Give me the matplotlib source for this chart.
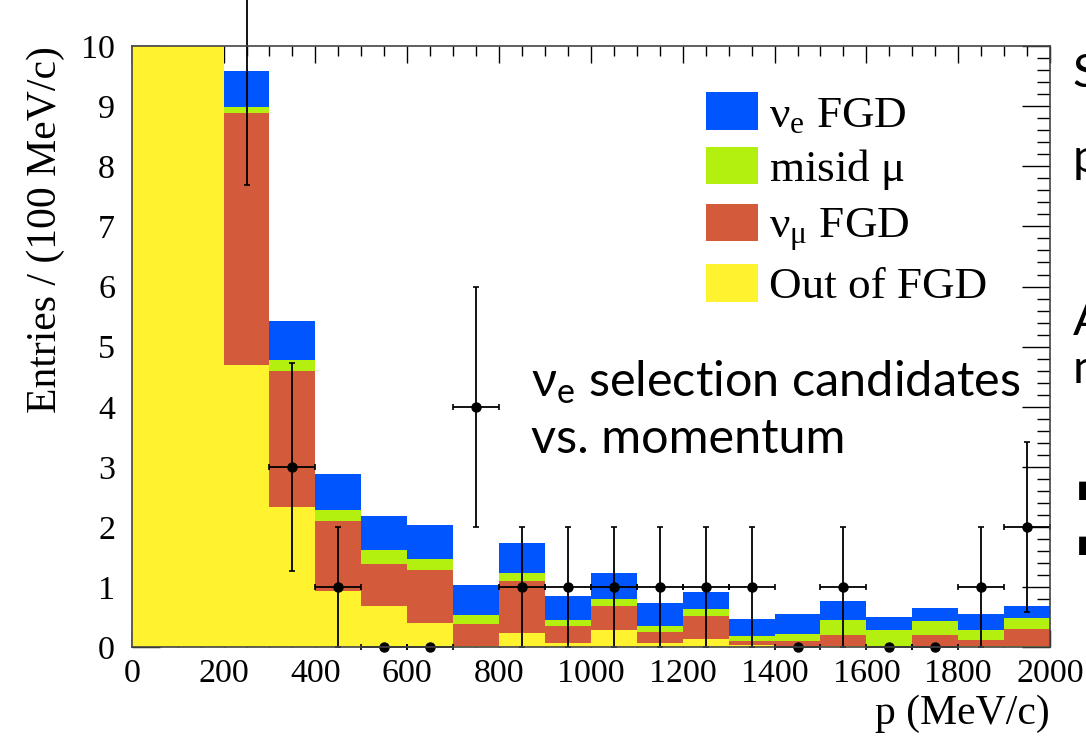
import numpy as np
import matplotlib
matplotlib.use("Agg")
import matplotlib.pyplot as plt
from matplotlib.patches import Patch
from matplotlib.ticker import MultipleLocator

plt.rcParams['mathtext.fontset'] = 'custom'
plt.rcParams['mathtext.rm'] = 'Liberation Serif'
plt.rcParams['mathtext.sf'] = 'Lato'
plt.rcParams['font.family'] = ['Liberation Serif', 'DejaVu Serif']

# ---- data (bins of 100 MeV/c from 0 to 2000) ----
bin_edges = list(range(0, 2100, 100))
out_of_fgd = [14.0, 12.0, 4.69, 2.34, 0.93, 0.69, 0.41, 0.02, 0.24, 0.07,
              0.29, 0.07, 0.13, 0.03, 0.02, 0.02, 0.02, 0.02, 0.02, 0.02]
numu_fgd = [0.0, 0.0, 4.19, 2.26, 1.17, 0.69, 0.88, 0.37, 0.87, 0.28,
            0.39, 0.18, 0.39, 0.08, 0.09, 0.19, 0.00, 0.19, 0.10, 0.29]
misid_mu = [0.0, 0.0, 0.10, 0.17, 0.19, 0.23, 0.18, 0.14, 0.13, 0.10,
            0.13, 0.10, 0.11, 0.08, 0.11, 0.24, 0.26, 0.23, 0.16, 0.18]
nue_fgd = [0.0, 0.0, 0.61, 0.65, 0.60, 0.57, 0.57, 0.51, 0.49, 0.41,
           0.43, 0.39, 0.29, 0.28, 0.34, 0.32, 0.22, 0.21, 0.27, 0.19]
data_counts = [np.nan, np.nan, 11, 3, 1, 0, 0, 4, 1, 1,
               1, 1, 1, 1, 0, 1, 0, 0, 1, 2]

labels = [r'$\mathrm{\nu_e}$ FGD', r'misid $\mathrm{\mu}$', r'$\mathrm{\nu_\mu}$ FGD', 'Out of FGD']
colors = ['#0055FF', '#B4F00F', '#D45A3C', '#FFF330']

# ---- figure ----
fig = plt.figure(figsize=(10.86, 7.40), dpi=100)
ax = fig.add_axes([0.1213, 0.1253, 0.8456, 0.8125])

edges = np.array(bin_edges, dtype=float)
left = edges[:-1]
width = np.diff(edges)
centers = left + width / 2

bottom = np.zeros(len(left))
stack = [(out_of_fgd, colors[3]), (numu_fgd, colors[2]),
         (misid_mu, colors[1]), (nue_fgd, colors[0])]
for vals, col in stack:
    v = np.array(vals)
    ax.bar(left, v, width=width, bottom=bottom, align='edge', color=col,
           linewidth=0, zorder=1)
    bottom = bottom + v

d = np.array(data_counts, dtype=float)
eb = ax.errorbar(centers, d, yerr=np.sqrt(d), xerr=width / 2, fmt='o',
                 color='black', ms=6.5, elinewidth=1.3, capsize=2.5,
                 capthick=1.2, zorder=4)
for art in eb.lines[0:1] + tuple(eb.lines[1]) + tuple(eb.lines[2]):
    art.set_clip_on(False)

ax.set_xlim(0, 2000)
ax.set_ylim(0, 10)
ax.set_axisbelow(True)
for s in ax.spines.values():
    s.set_zorder(5)
    s.set_linewidth(1.2)
    s.set_color('#444444')

ax.xaxis.set_major_locator(MultipleLocator(200))
ax.xaxis.set_minor_locator(MultipleLocator(50))
ax.yaxis.set_major_locator(MultipleLocator(1))
ax.yaxis.set_minor_locator(MultipleLocator(0.2))
ax.tick_params(axis='both', which='both', direction='in', top=True, right=True,
               width=1.0, color='black', labelsize=24.5)
ax.tick_params(axis='x', which='major', length=12, pad=8)
ax.tick_params(axis='x', which='minor', length=7)
ax.tick_params(axis='y', which='major', length=20, pad=12)
ax.tick_params(axis='y', which='minor', length=9.5)

ax.set_xlabel('p (MeV/c)', fontsize=30, loc='right', labelpad=4)
ax.set_ylabel('Entries / (100 MeV/c)', fontsize=30, loc='top', labelpad=12)

handles = [Patch(facecolor=c, edgecolor='none') for c in colors]
leg = ax.legend(handles, labels, loc='upper left', bbox_to_anchor=(0.625, 0.923),
                frameon=False, fontsize=32.5, handlelength=1.15, handleheight=0.9,
                handletextpad=0.25, labelspacing=0.25, borderaxespad=0, borderpad=0)

ax.text(0.435, 0.395, r'$\mathsf{\nu_e}$ selection candidates' + '\nvs. momentum',
        transform=ax.transAxes, fontsize=35, family=['Lato', 'DejaVu Sans'],
        ha='left', va='center', linespacing=1.3, zorder=6)

# slide text fragments cut off at the right edge (as in the reference)
for ch, yy in [('S', 0.90), ('p', 0.785), ('A', 0.565), ('n', 0.50)]:
    fig.text(0.9875, yy, ch, fontsize=34, family=['Lato', 'DejaVu Sans'],
             ha='left', va='center')
for yy in [0.338, 0.263]:
    fig.text(0.9915, yy, '\u25a0', fontsize=17, family=['DejaVu Sans'],
             ha='left', va='center')

fig.savefig('out.png', dpi=100)
